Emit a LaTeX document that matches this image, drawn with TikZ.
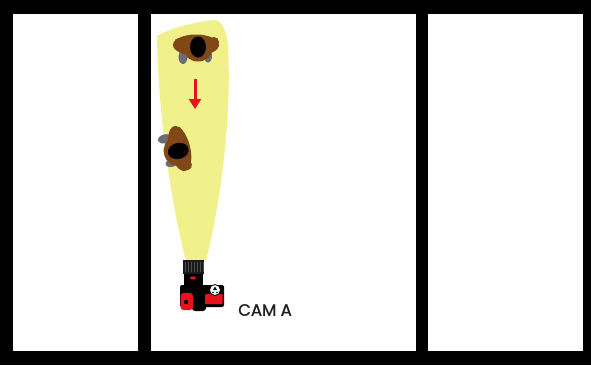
\documentclass[tikz,border=0pt]{standalone}
\usepackage{fontspec}
\newfontfamily\labelfont[BoldFont={Poppins}, BoldFeatures={FakeBold=1.3}]{Poppins}
\usetikzlibrary{arrows.meta}
\definecolor{beamyellow}{RGB}{241,241,140}
\definecolor{skin}{RGB}{128,72,22}
\definecolor{shoe}{RGB}{108,108,118}
\definecolor{camred}{RGB}{232,18,30}
\tikzset{
  wall/.style={fill=black},
  room/.style={fill=white},
  beam/.style={fill=beamyellow},
  move/.style={draw=camred, line width=3pt, -{Triangle[length=10pt,width=12pt]}},
  caption/.style={font=\labelfont\bfseries\fontsize{16.5}{18}\selectfont, text=black!88, inner sep=0pt},
}
% one person seen from above, facing local +y
\newcommand{\topperson}{%
  \fill[shoe] (-14,10) ellipse [x radius=4.5, y radius=7];
  \fill[shoe] (11,9) ellipse [x radius=4, y radius=6.5];
  \fill[skin] (-1,-2) ellipse [x radius=23, y radius=10.5];
  \fill[skin] (-18,-4) circle [radius=5];
  \fill[skin] (17,-5) circle [radius=5];
  \fill[skin] (1,3) ellipse [x radius=14, y radius=11.5];
  \fill[black] (1,0) ellipse [x radius=8, y radius=10.5];
}
\begin{document}
\begin{tikzpicture}[x=1pt,y=-1pt]
  \useasboundingbox (0,0) rectangle (591,365);
  % walls and the three rooms
  \fill[wall] (0,0) rectangle (591,365);
  \fill[room] (13,14) rectangle (138,351);
  \fill[room] (151,14) rectangle (416,351);
  \fill[room] (428,14) rectangle (583,351);
  % light cone of the camera
  \fill[beam] (157,36) .. controls (158,110) and (170,200) .. (186,261)
    -- (206,261) .. controls (220,205) and (232,120) .. (228,45)
    .. controls (226,30) and (222,20) .. (214,20)
    .. controls (195,22) and (170,28) .. (157,36) -- cycle;
  % two people
  \begin{scope}[shift={(197,47)}]
    \topperson
  \end{scope}
  \begin{scope}[shift={(178,150)}, rotate=-76]
    \topperson
  \end{scope}
  % walking direction
  \coordinate (mvS) at (195,79);
  \coordinate (mvE) at (195,109);
  \draw[move] (mvS) -- (mvE);
  % camera seen from above
  \fill[black!90] (183,260) rectangle (204,274);
  \foreach \sx in {185,188,...,203} \fill[black!70] (\sx,262) rectangle (\sx+1,272);
  \fill[black] (184,274) rectangle (203,286);
  \fill[camred] (193,278) ellipse [x radius=3, y radius=1.6];
  \fill[black, rounded corners=2] (180,285) rectangle (224,307);
  \fill[black, rounded corners=3] (192,300) rectangle (206,311);
  \fill[camred, rounded corners=3] (180.5,293) rectangle (193,310);
  \fill[black] (186,302) circle [radius=2.2];
  \fill[camred, rounded corners=1] (205,294) rectangle (222.5,304);
  \filldraw[fill=white, draw=black, line width=0.8pt] (215,290) circle [radius=5.5];
  \fill[black] (213,290) -- (217,290) -- (215,286.5) -- cycle;
  \fill[black] (213,292.5) circle [radius=0.9];
  \fill[black] (217,292.5) circle [radius=0.9];
  % label
  \node[caption] (camA) at (265,310) {CAM A};
\end{tikzpicture}
\end{document}
